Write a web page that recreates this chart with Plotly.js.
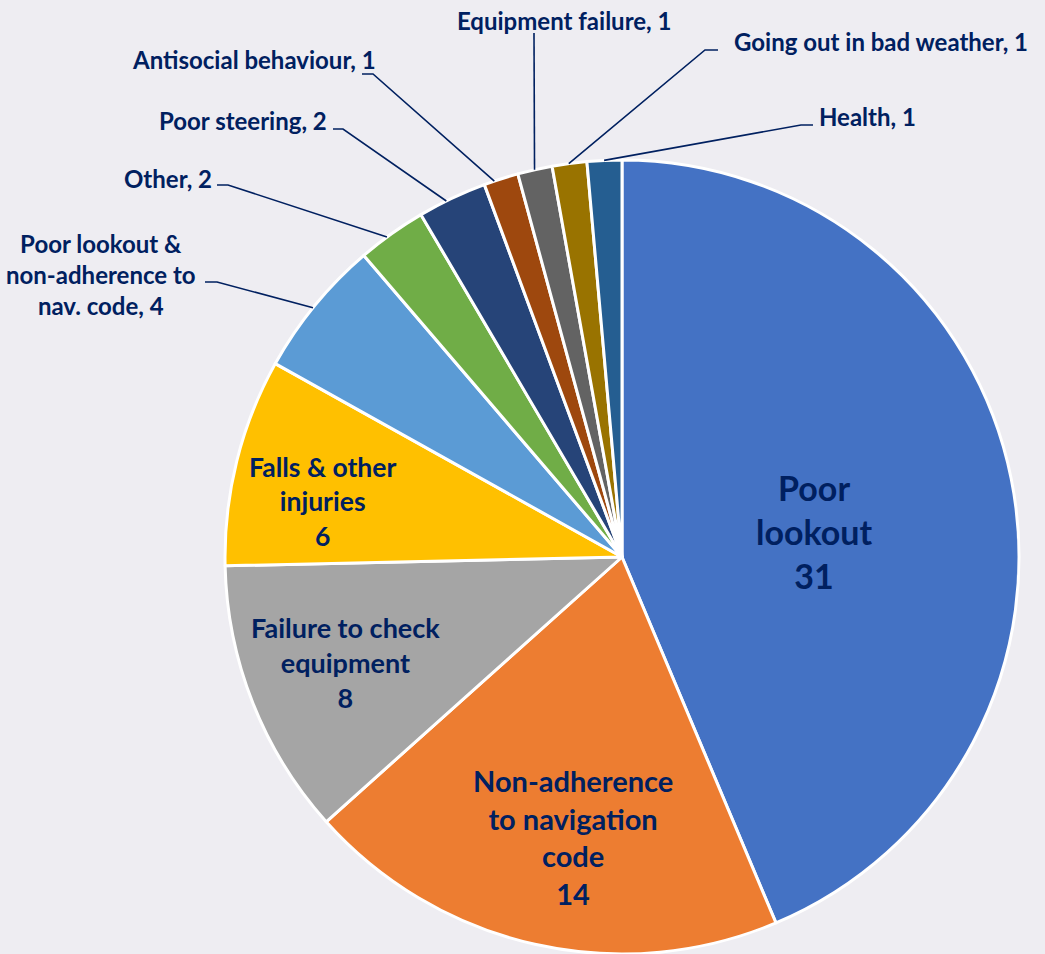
<!DOCTYPE html>
<html>
<head>
<meta charset="utf-8">
<script src="https://cdn.plot.ly/plotly-3.0.1.min.js"></script>
<style>html,body{margin:0;padding:0;background:#EEEDF2;}#chart{width:1045px;height:954px;}</style>
</head>
<body>
<div id="chart"></div>
<script>
// ---- data ----
const categories = [
  "Poor lookout",
  "Non-adherence to navigation code",
  "Failure to check equipment",
  "Falls & other injuries",
  "Poor lookout & non-adherence to nav. code",
  "Other",
  "Poor steering",
  "Antisocial behaviour",
  "Equipment failure",
  "Going out in bad weather",
  "Health"
];
const values = [31, 14, 8, 6, 4, 2, 2, 1, 1, 1, 1];
const colors = ["#4472C4", "#ED7D31", "#A5A5A5", "#FFC000", "#5B9BD5", "#70AD47",
                "#264478", "#9E480E", "#636363", "#997300", "#255E91"];
// label text lines (display)
const insideLabels = {
  0: ["Poor", "lookout"],
  1: ["Non-adherence", "to navigation", "code"],
  2: ["Failure to check", "equipment"],
  3: ["Falls & other", "injuries"]
};
const outsideLabels = {
  4: ["Poor lookout &", "non-adherence to", "nav. code"],
  5: ["Other"],
  6: ["Poor steering"],
  7: ["Antisocial behaviour"],
  8: ["Equipment failure"],
  9: ["Going out in bad weather"],
  10: ["Health"]
};

// ---- layout (pixel positions of labels) ----
const W = 1045, H = 954;
const CX = 622, CY = 557, R = 397;
const NAVY = "#002060";
const FONT = "Lato, 'Open Sans', sans-serif";
const insidePos = {
  0: {x: 814, y: 531, size: 34},
  1: {x: 573, y: 837, size: 29},
  2: {x: 345, y: 662, size: 27},
  3: {x: 322, y: 501, size: 26.5}
};
const OUT_SIZE = 24;
// text anchor point, xanchor, elbow path (pixel), attach fraction within slice
const outsidePos = {
  4: {x: 101, y: 274, xa: "center", elbow: [[205, 282], [217, 282]], f: 0.48},
  5: {x: 214, y: 178, xa: "right", elbow: [[217, 185], [228, 185]], f: 0.42},
  6: {x: 329, y: 121, xa: "right", elbow: [[333, 129], [343, 129]], f: 0.41},
  7: {x: 378, y: 60, xa: "right", elbow: [[362, 74], [373, 74]], f: 0.3},
  8: {x: 564, y: 20, xa: "center", elbow: [[534, 33]], f: 0.49},
  9: {x: 732, y: 41, xa: "left", elbow: [[718, 50], [705, 50]], f: 0.48},
  10: {x: 817, y: 117, xa: "left", elbow: [[813, 125], [801, 125]], f: 0.49}
};

const px = x => x / W;
const py = y => 1 - y / H;

const total = values.reduce((a, b) => a + b, 0);
const cum = [];
values.reduce((acc, v, i) => { cum[i] = acc; return acc + v; }, 0);

const annotations = [];
const shapes = [];

Object.keys(insideLabels).forEach(k => {
  const i = +k, p = insidePos[i];
  annotations.push({
    xref: "paper", yref: "paper", x: px(p.x), y: py(p.y),
    xanchor: "center", yanchor: "middle", showarrow: false, align: "center",
    text: insideLabels[i].concat([String(values[i])]).join("<br>"),
    font: {family: FONT, size: p.size, color: NAVY, weight: "bold"}
  });
});

Object.keys(outsideLabels).forEach(k => {
  const i = +k, p = outsidePos[i];
  const lines = outsideLabels[i].slice();
  lines[lines.length - 1] += ", " + values[i];
  annotations.push({
    xref: "paper", yref: "paper", x: px(p.x), y: py(p.y),
    xanchor: p.xa, yanchor: "middle", showarrow: false, align: "center",
    text: lines.join("<br>"),
    font: {family: FONT, size: OUT_SIZE, color: NAVY, weight: "bold"}
  });
  const ang = (cum[i] + p.f * values[i]) / total * 2 * Math.PI;
  const ax = CX + R * Math.sin(ang), ay = CY - R * Math.cos(ang);
  const pts = p.elbow.concat([[ax, ay]]);
  const d = pts.map((q, j) => (j ? "L" : "M") + px(q[0]).toFixed(5) + "," + py(q[1]).toFixed(5)).join(" ");
  shapes.push({type: "path", xref: "paper", yref: "paper", path: d,
    line: {color: NAVY, width: 1.6}, layer: "above"});
});

const trace = {
  type: "pie",
  labels: categories,
  values: values,
  sort: false,
  direction: "clockwise",
  rotation: 0,
  marker: {colors: colors, line: {color: "#FFFFFF", width: 3}},
  textinfo: "none",
  hoverinfo: "label+value",
  showlegend: false,
  domain: {x: [(CX - R) / W, (CX + R) / W], y: [1 - (CY + R) / H, 1 - (CY - R) / H]}
};

const layout = {
  width: W, height: H,
  margin: {l: 0, r: 0, t: 0, b: 0},
  paper_bgcolor: "#EEEDF2",
  plot_bgcolor: "#EEEDF2",
  showlegend: false,
  annotations: annotations,
  shapes: shapes
};

Plotly.newPlot("chart", [trace], layout, {displayModeBar: false, staticPlot: true});
</script>
</body>
</html>
